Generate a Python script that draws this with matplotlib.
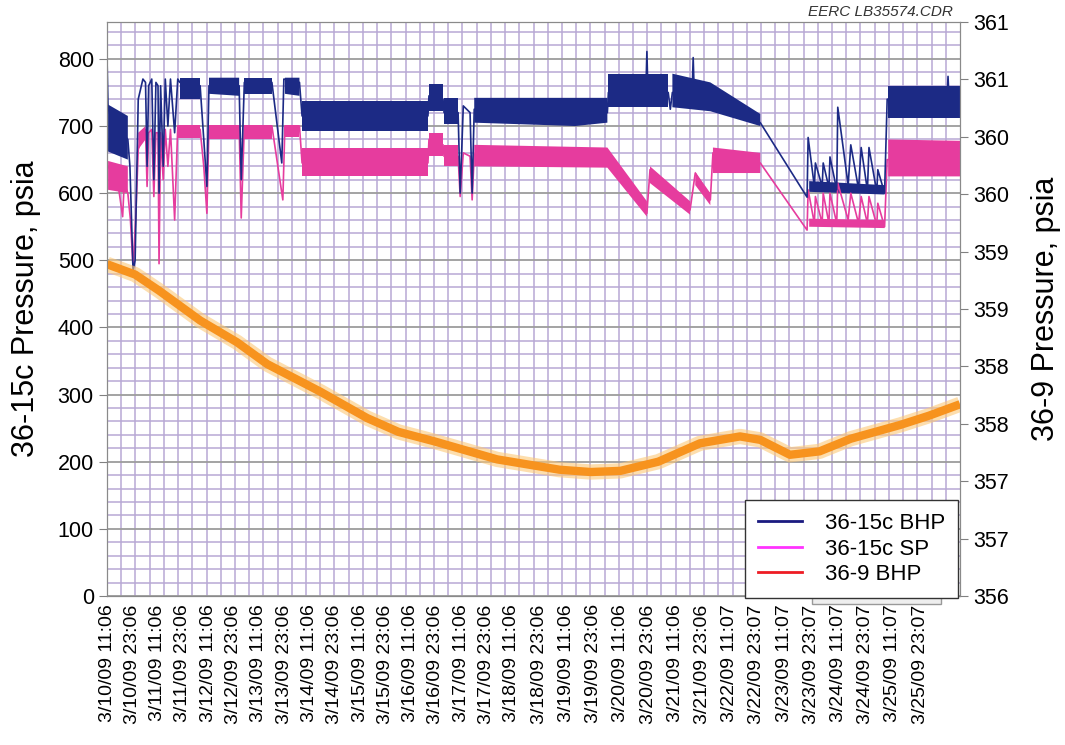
import numpy as np
import matplotlib.pyplot as plt
from matplotlib.lines import Line2D
from matplotlib.patches import Rectangle
from matplotlib.ticker import MultipleLocator, FixedLocator

plt.rcParams['font.family'] = ['Liberation Sans', 'DejaVu Sans']

nan = np.nan

# x position unit: ~ days after 3/10/09 11:06 (category axis, labels not evenly spaced)
tick_labels = ['3/10/09 11:06', '3/10/09 23:06', '3/11/09 11:06', '3/11/09 23:06',
               '3/12/09 11:06', '3/12/09 23:06', '3/13/09 11:06', '3/13/09 23:06',
               '3/14/09 11:06', '3/14/09 23:06', '3/15/09 11:06', '3/15/09 23:06',
               '3/16/09 11:06', '3/16/09 23:06', '3/17/09 11:06', '3/17/09 23:06',
               '3/18/09 11:06', '3/18/09 23:06', '3/19/09 11:06', '3/19/09 23:06',
               '3/20/09 11:06', '3/20/09 23:06', '3/21/09 11:06', '3/21/09 23:06',
               '3/22/09 11:07', '3/22/09 23:07', '3/23/09 11:07', '3/23/09 23:07',
               '3/24/09 11:07', '3/24/09 23:07', '3/25/09 11:07', '3/25/09 23:07']
tick_pos = [0.0, 0.487, 0.973, 1.46, 1.946, 2.433, 2.919, 3.406, 3.892, 4.379, 4.865,
            5.352, 5.838, 6.325, 6.811, 7.298, 7.784, 8.31, 8.833, 9.356, 9.879, 10.402,
            10.925, 11.448, 11.971, 12.494, 13.017, 13.54, 14.063, 14.586, 15.109, 15.632]
right_ticks = [356, 356.5, 357, 357.5, 358, 358.5, 359, 359.5, 360, 360.5, 361]
right_labels = ['356', '357', '357', '358', '358', '359', '359', '360', '360', '361', '361']

# 36-15c BHP trace
bhp_t = [0.0, 0.02, 0.2, 0.40, 0.44, 0.50, 0.54, 0.60, 0.69, 0.74, 0.77, 0.80, 0.86, 0.90,
         0.94, 0.98, 1.0, 1.03, 1.08, 1.12, 1.17, 1.22, 1.30, 1.36, 1.40, 1.79, 1.86, 1.92,
         1.96, 2.54, 2.58, 2.64, 3.17, 3.36, 3.40, 3.70, 3.75, 6.17, 6.19, 6.46, 6.48, 6.75,
         6.79, 6.85, 6.98, 7.02, 7.06, 9.62, 9.64, 10.36, 10.38, 10.40, 10.79, 10.83, 10.87,
         11.25, 11.27, 11.29, 11.6, 12.56, 13.46,
         13.48, 13.6, 13.62, 13.75, 13.77, 13.88, 13.9, 14.03, 14.05, 14.25, 14.3, 14.45,
         14.5, 14.62, 14.65, 14.8, 14.82, 14.95, 15.0, 16.15, 16.17, 16.19, 16.4]
bhp_v = [800, 725, 700, 680, 640, 485, 500, 740, 770, 765, 640, 760, 770, 620,
         765, 760, 600, 760, 640, 770, 700, 770, 690, 770, 765, 760, 680, 610,
         760, 760, 620, 765, 765, 645, 770, 765, 715, 715, 745, 740, 720, 720,
         600, 730, 720, 600, 725, 720, 750, 750, 811, 750, 750, 725, 750,
         750, 802, 750, 745, 705, 594,
         683, 610, 645, 610, 645, 608, 654, 605, 728, 612, 672, 606,
         668, 604, 668, 602, 635, 600, 740, 740, 774, 740, 735]

# noisy band of 36-15c BHP (low / high envelope)
bhp_band_t = [0.02, 0.40, nan, 1.40, 1.79, nan, 1.96, 2.54, nan, 2.64, 3.17, nan, 3.42, 3.70, nan,
              3.75, 6.17, nan, 6.19, 6.46, nan, 6.48, 6.75, nan, 7.06, 9.0, 9.62, nan,
              9.64, 10.79, nan, 10.87, 11.6, 12.56, nan, 13.5, 14.95, nan, 15.02, 16.4]
bhp_band_lo = [662, 650, nan, 740, 740, nan, 748, 745, nan, 748, 748, nan, 748, 745, nan,
               692, 692, nan, 722, 722, nan, 703, 703, nan, 705, 700, 705, nan,
               728, 728, nan, 728, 722, 700, nan, 602, 598, nan, 712, 712]
bhp_band_hi = [732, 715, nan, 772, 772, nan, 772, 772, nan, 772, 772, nan, 772, 772, nan,
               738, 738, nan, 762, 762, nan, 742, 742, nan, 742, 742, 742, nan,
               778, 778, nan, 778, 765, 718, nan, 618, 612, nan, 760, 760]

# 36-15c SP trace
sp_t = [0.0, 0.0, 0.02, 0.2, 0.3, 0.33, 0.40, 0.45, 0.50, 0.55, 0.60, 0.69, 0.74, 0.77, 0.80,
        0.86, 0.90, 0.94, 0.98, 1.0, 1.03, 1.08, 1.12, 1.17, 1.22, 1.30, 1.36, 1.79, 1.86,
        1.92, 1.96, 2.54, 2.58, 2.64, 3.17, 3.38, 3.42, 3.70, 3.75, 6.17, 6.19, 6.46, 6.48,
        6.75, 6.79, 6.85, 6.98, 7.02, 7.06, 9.62, 10.38, 10.44, 11.21, 11.31, 11.6, 11.65,
        12.56, 13.46, 13.48, 13.6, 13.62, 13.75, 13.77, 13.88, 13.9, 14.03, 14.05, 14.25,
        14.3, 14.45, 14.5, 14.62, 14.65, 14.8, 14.82, 14.95, 15.0, 16.4]
sp_v = [0, 640, 640, 620, 565, 615, 600, 560, 490, 560, 665, 690, 695, 610, 690,
        695, 595, 690, 690, 495, 690, 620, 695, 640, 695, 560, 700, 695, 640,
        570, 700, 700, 563, 700, 700, 590, 700, 700, 645, 645, 680, 672, 655,
        655, 595, 660, 655, 590, 658, 655, 570, 635, 575, 630, 590, 660,
        645, 545, 605, 555, 595, 555, 600, 555, 600, 555, 615, 560,
        600, 555, 595, 555, 595, 552, 585, 550, 650, 645]

sp_band_t = [0.02, 0.40, nan, 0.60, 0.74, nan, 1.36, 1.79, nan, 1.96, 2.54, nan, 2.64, 3.17, nan,
             3.42, 3.70, nan, 3.75, 6.17, nan, 6.19, 6.46, nan, 6.48, 6.75, nan, 7.06, 9.62, 10.38, nan,
             10.44, 11.21, nan, 11.31, 11.6, nan, 11.65, 12.56, nan, 13.5, 14.95, nan, 15.02, 16.4]
sp_band_lo = [605, 600, nan, 665, 680, nan, 682, 682, nan, 680, 680, nan, 680, 680, nan,
              684, 684, nan, 626, 626, nan, 655, 655, nan, 640, 640, nan, 640, 638, 565, nan,
              615, 568, nan, 612, 582, nan, 630, 630, nan, 550, 548, nan, 625, 625]
sp_band_hi = [648, 640, nan, 690, 700, nan, 702, 702, nan, 702, 702, nan, 702, 702, nan,
              702, 702, nan, 668, 668, nan, 690, 690, nan, 672, 672, nan, 672, 668, 588, nan,
              640, 588, nan, 632, 600, nan, 668, 660, nan, 562, 560, nan, 680, 678]

# 36-9 BHP (right axis)
bhp9_t = [0.0, 0.54, 1.0, 1.79, 2.5, 3.08, 4.1, 5.0, 5.6, 6.27, 7.5, 8.7, 9.3, 9.87,
          10.6, 11.4, 12.17, 12.56, 13.13, 13.7, 14.3, 15.25, 15.8, 16.4]
bhp9_v = [358.89, 358.80, 358.66, 358.40, 358.21, 358.02, 357.78, 357.55, 357.43, 357.35,
          357.19, 357.10, 357.08, 357.09, 357.17, 357.33, 357.39, 357.36, 357.23, 357.26,
          357.37, 357.49, 357.57, 357.67]

navy = '#1c2a85'
pink = '#e63c9e'
orange = '#f7931e'

fig = plt.figure(figsize=(10.65, 7.45), dpi=100)
ax = fig.add_axes([0.1005, 0.2, 0.8009, 0.7705])

ax.set_xlim(0, 16.4)
ax.set_ylim(0, 855)

# grid
ax.set_yticks(np.arange(0, 801, 100))
ax.yaxis.set_minor_locator(MultipleLocator(20))
ax.xaxis.set_minor_locator(FixedLocator(np.linspace(0, 16.4, 61)[1:-1]))
ax.grid(which='minor', color='#b8a8d4', lw=1.1)
ax.grid(which='major', axis='y', color='#9c9c9c', lw=1.3)
ax.set_axisbelow(True)

ax.fill_between(sp_band_t, sp_band_lo, sp_band_hi, color=pink, lw=0)
ax.plot(sp_t, sp_v, color=pink, lw=1.2)
ax.fill_between(bhp_band_t, bhp_band_lo, bhp_band_hi, color=navy, lw=0)
ax.plot(bhp_t, bhp_v, color=navy, lw=1.2)

ax.set_xticks(tick_pos)
ax.set_xticklabels(tick_labels, rotation=90, fontsize=14)
ax.tick_params(axis='x', which='both', length=0, pad=6)
ax.tick_params(axis='y', which='major', length=6, labelsize=15.5, color='#808080')
ax.tick_params(axis='y', which='minor', length=0)
ax.set_ylabel('36-15c Pressure, psia', fontsize=22, labelpad=12)
for s in ax.spines.values():
    s.set_color('#8a8a8a')

ax2 = ax.twinx()
ax2.set_ylim(356, 361)
ax2.plot(bhp9_t, bhp9_v, color='#fcc877', lw=11, alpha=0.6, solid_capstyle='butt')
ax2.plot(bhp9_t, bhp9_v, color=orange, lw=6, solid_capstyle='butt')
ax2.set_yticks(right_ticks)
ax2.set_yticklabels(right_labels)
ax2.tick_params(axis='y', length=6, labelsize=15.5, color='#808080')
ax2.set_ylabel('36-9 Pressure, psia', fontsize=22, labelpad=16)
for s in ax2.spines.values():
    s.set_color('#8a8a8a')

# grey box peeking out under the legend (behind the axes)
fig.patches.append(Rectangle((0.762, 0.189), 0.122, 0.03, transform=fig.transFigure,
                             facecolor='#eeeeee', edgecolor='#999999', lw=1.0, zorder=-1))

handles = [Line2D([], [], color='#1a1a80', lw=2),
           Line2D([], [], color='#ff33ff', lw=2),
           Line2D([], [], color='#ee1c24', lw=2)]
leg = ax2.legend(handles, ['36-15c BHP', '36-15c SP', '36-9 BHP'], loc='lower right',
                 bbox_to_anchor=(0.998, -0.004), borderaxespad=0, fontsize=16,
                 fancybox=False, framealpha=1, edgecolor='#333333',
                 handlelength=2.0, handletextpad=1.0, labelspacing=0.2,
                 borderpad=0.6)
leg.get_frame().set_linewidth(1.0)

fig.text(0.895, 0.975, 'EERC LB35574.CDR', fontsize=11, style='italic',
         ha='right', va='bottom', color='#333333')

fig.savefig('out.png', dpi=100)
